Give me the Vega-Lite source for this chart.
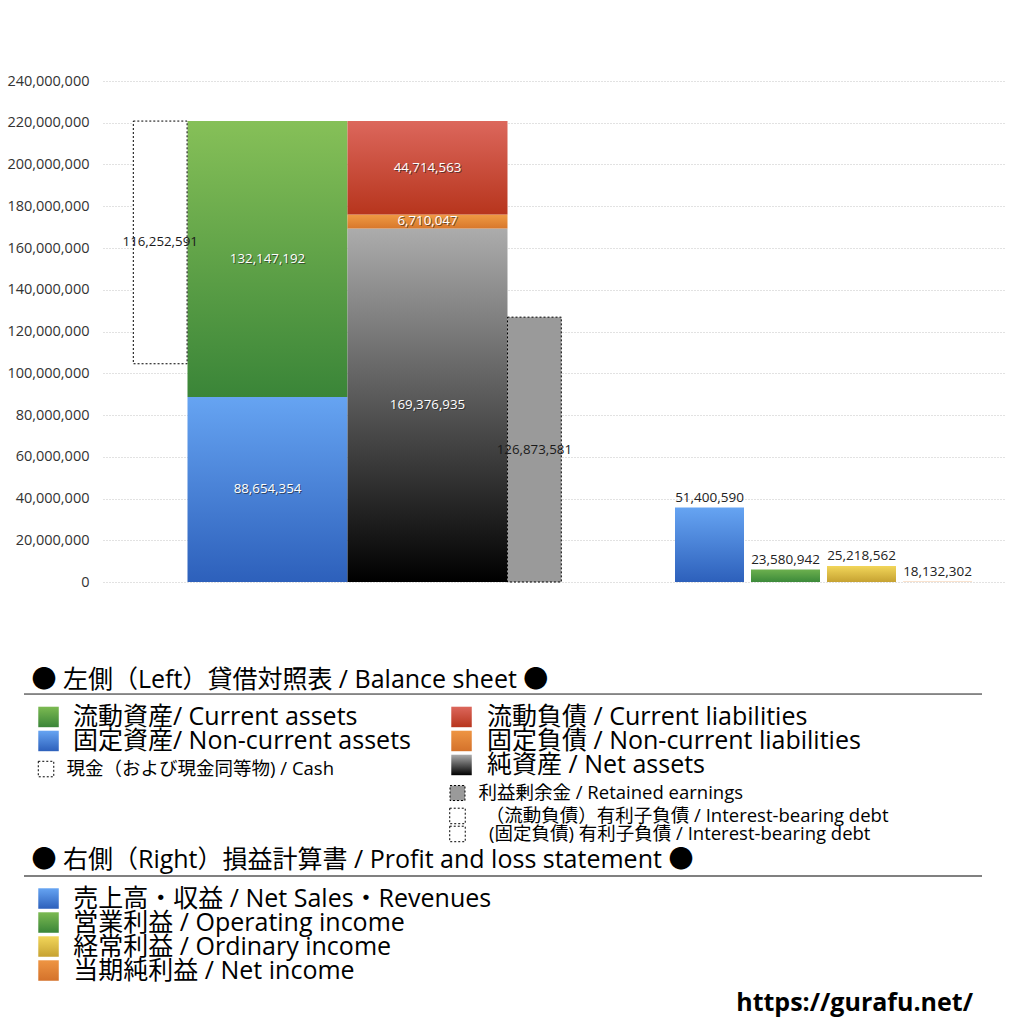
{
  "$schema": "https://vega.github.io/schema/vega-lite/v6.json",
  "width": 902,
  "height": 501,
  "autosize": {"type": "none"},
  "padding": {"left": 103, "top": 81, "right": 19, "bottom": 442},
  "background": "white",
  "config": {
    "view": {"stroke": null},
    "font": "Open Sans, Noto Sans CJK JP",
    "axisY": {"labelFontSize": 14.5, "labelFont": "Open Sans", "labelColor": "#333333", "gridColor": "#c4c4c4", "gridDash": [1, 2], "gridWidth": 1, "domain": false, "ticks": false, "labelPadding": 14, "labelFlush": false}
  },
  "datasets": {
    "bs": [
      {"col": "cash", "seg": "other", "value": 104548955, "order": 1},
      {"col": "cash", "seg": "cash", "value": 116252591, "order": 2},
      {"col": "assets", "seg": "noncurrent_assets", "value": 88654354, "order": 1},
      {"col": "assets", "seg": "current_assets", "value": 132147192, "order": 2},
      {"col": "liab", "seg": "net_assets", "value": 169376935, "order": 1},
      {"col": "liab", "seg": "noncurrent_liab", "value": 6710047, "order": 2},
      {"col": "liab", "seg": "current_liab", "value": 44714563, "order": 3},
      {"col": "re", "seg": "retained", "value": 126873581, "order": 1}
    ],
    "pl": [
      {"item": "sales", "value": 51400590},
      {"item": "operating", "value": 23580942},
      {"item": "ordinary", "value": 25218562},
      {"item": "net", "value": 18132302}
    ],
    "legend": [
      {"key": "h1", "type": "header", "label": "● 左側（Left）貸借対照表 / Balance sheet ●", "tx": 0.78, "row": 0},
      {"key": "rule1", "type": "rule", "x0": 0, "x1": 100, "row": 1.17},
      {"key": "ca", "type": "big", "label": "流動資産/ Current assets", "sx": 2.56, "tx": 5.11, "row": 3.08},
      {"key": "nca", "type": "big", "label": "固定資産/ Non-current assets", "sx": 2.56, "tx": 5.11, "row": 5.08},
      {"key": "cash", "type": "small", "label": "現金（および現金同等物) / Cash", "sx": 2.3, "tx": 4.44, "row": 7.42},
      {"key": "cl", "type": "big", "label": "流動負債 /  Current liabilities", "sx": 45.67, "tx": 48.33, "row": 3.08},
      {"key": "ncl", "type": "big", "label": "固定負債 / Non-current liabilities", "sx": 45.67, "tx": 48.33, "row": 5.08},
      {"key": "na", "type": "big", "label": "純資産 / Net assets", "sx": 45.67, "tx": 48.33, "row": 7.08},
      {"key": "re", "type": "small", "label": "利益剰余金 / Retained earnings", "sx": 45.25, "tx": 47.44, "row": 9.42},
      {"key": "ib1", "type": "small", "label": "（流動負債）有利子負債 / Interest-bearing debt", "sx": 45.25, "tx": 48.2, "row": 11.33},
      {"key": "ib2", "type": "small", "label": "(固定負債) 有利子負債 / Interest-bearing debt", "sx": 45.25, "tx": 48.54, "row": 12.83},
      {"key": "h2", "type": "header", "label": "● 右側（Right）損益計算書 / Profit and loss statement ●", "tx": 0.78, "row": 15},
      {"key": "rule2", "type": "rule", "x0": 0, "x1": 100, "row": 16.33},
      {"key": "sales", "type": "big", "label": "売上高・収益 / Net Sales・Revenues", "sx": 2.56, "tx": 5.15, "row": 18.21},
      {"key": "op", "type": "big", "label": "営業利益 / Operating income", "sx": 2.56, "tx": 5.15, "row": 20.21},
      {"key": "ord", "type": "big", "label": "経常利益 / Ordinary income", "sx": 2.56, "tx": 5.15, "row": 22.21},
      {"key": "net", "type": "big", "label": "当期純利益 / Net income", "sx": 2.56, "tx": 5.15, "row": 24.21},
      {"key": "url", "type": "url", "label": "https://gurafu.net/", "tx": 99.06, "row": 26.92}
    ]
  },
  "resolve": {
    "scale": {"x": "independent", "y": "independent"},
    "axis": {"x": "independent", "y": "independent"}
  },
  "layer": [
    {
      "data": {"name": "pl"},
      "mark": {"type": "rule", "opacity": 0},
      "encoding": {
        "y": {"field": "value", "type": "quantitative", "scale": {"domain": [0, 240000000], "nice": false, "zero": true}, "axis": {"title": null, "values": [0, 20000000, 40000000, 60000000, 80000000, 100000000, 120000000, 140000000, 160000000, 180000000, 200000000, 220000000, 240000000], "format": ",d"}}
      }
    },
    {
      "data": {"name": "bs"},
      "transform": [
        {"stack": "value", "groupby": ["col"], "sort": [{"field": "order", "order": "ascending"}], "as": ["lo", "hi"]},
        {"filter": {"field": "col", "oneOf": ["assets", "liab"]}}
      ],
      "encoding": {
        "x": {"field": "col", "type": "nominal", "axis": null, "scale": {"type": "band", "domain": ["assets", "liab"], "range": [84.5, 404.5], "paddingInner": 0, "paddingOuter": 0}},
        "y": {"field": "lo", "type": "quantitative", "axis": null, "scale": {"domain": [0, 240000000], "nice": false, "zero": true}}
      },
      "layer": [
        {
          "transform": [{"filter": "datum.seg == 'noncurrent_assets'"}],
          "mark": {"type": "bar", "fill": {"gradient": "linear", "x1": 0, "y1": 0, "x2": 0, "y2": 1, "stops": [{"offset": 0, "color": "#66a4f2"}, {"offset": 1, "color": "#2d60bb"}]}},
          "encoding": {"y2": {"field": "hi"}}
        },
        {
          "transform": [{"filter": "datum.seg == 'current_assets'"}],
          "mark": {"type": "bar", "fill": {"gradient": "linear", "x1": 0, "y1": 0, "x2": 0, "y2": 1, "stops": [{"offset": 0, "color": "#86c058"}, {"offset": 1, "color": "#3a8538"}]}},
          "encoding": {"y2": {"field": "hi"}}
        },
        {
          "transform": [{"filter": "datum.seg == 'net_assets'"}],
          "mark": {"type": "bar", "fill": {"gradient": "linear", "x1": 0, "y1": 0, "x2": 0, "y2": 1, "stops": [{"offset": 0, "color": "#acacac"}, {"offset": 1, "color": "#000000"}]}},
          "encoding": {"y2": {"field": "hi"}}
        },
        {
          "transform": [{"filter": "datum.seg == 'noncurrent_liab'"}],
          "mark": {"type": "bar", "fill": {"gradient": "linear", "x1": 0, "y1": 0, "x2": 0, "y2": 1, "stops": [{"offset": 0, "color": "#f09a43"}, {"offset": 1, "color": "#d8782c"}]}},
          "encoding": {"y2": {"field": "hi"}}
        },
        {
          "transform": [{"filter": "datum.seg == 'current_liab'"}],
          "mark": {"type": "bar", "fill": {"gradient": "linear", "x1": 0, "y1": 0, "x2": 0, "y2": 1, "stops": [{"offset": 0, "color": "#dc675c"}, {"offset": 1, "color": "#b7351d"}]}},
          "encoding": {"y2": {"field": "hi"}}
        },
        {
          "transform": [
            {"fold": ["lo", "hi"], "as": ["edge", "pos"]},
            {"aggregate": [{"op": "mean", "field": "pos", "as": "mid"}], "groupby": ["col", "seg", "value"]}
          ],
          "mark": {"type": "text", "fontSize": 13.3, "color": "#222222", "opacity": 0.6, "dx": 1, "dy": 1, "baseline": "middle"},
          "encoding": {"y": {"field": "mid", "type": "quantitative", "axis": null}, "text": {"field": "value", "type": "quantitative", "format": ",d"}}
        },
        {
          "transform": [
            {"fold": ["lo", "hi"], "as": ["edge", "pos"]},
            {"aggregate": [{"op": "mean", "field": "pos", "as": "mid"}], "groupby": ["col", "seg", "value"]}
          ],
          "mark": {"type": "text", "fontSize": 13.3, "color": "#ffffff", "baseline": "middle"},
          "encoding": {"y": {"field": "mid", "type": "quantitative", "axis": null}, "text": {"field": "value", "type": "quantitative", "format": ",d"}}
        }
      ]
    },
    {
      "data": {"name": "bs"},
      "transform": [
        {"stack": "value", "groupby": ["col"], "sort": [{"field": "order", "order": "ascending"}], "as": ["lo", "hi"]},
        {"filter": {"field": "col", "oneOf": ["cash", "re"]}},
        {"filter": "datum.seg != 'other'"}
      ],
      "encoding": {
        "x": {"field": "col", "type": "nominal", "axis": null, "scale": {"type": "band", "domain": ["cash", "re"], "range": [30.3, 458.3], "paddingInner": 0.85627, "paddingOuter": 0}},
        "y": {"field": "lo", "type": "quantitative", "axis": null, "scale": {"domain": [0, 240000000], "nice": false, "zero": true}}
      },
      "layer": [
        {
          "transform": [{"filter": "datum.seg == 'cash'"}],
          "mark": {"type": "bar", "fill": "#ffffff", "stroke": "#000000", "strokeWidth": 1, "strokeDash": [2, 2]},
          "encoding": {"y2": {"field": "hi"}}
        },
        {
          "transform": [{"filter": "datum.seg == 'retained'"}],
          "mark": {"type": "bar", "fill": "#9a9a9a", "stroke": "#000000", "strokeWidth": 1, "strokeDash": [2, 2]},
          "encoding": {"y2": {"field": "hi"}}
        },
        {
          "transform": [
            {"fold": ["lo", "hi"], "as": ["edge", "pos"]},
            {"aggregate": [{"op": "mean", "field": "pos", "as": "mid"}], "groupby": ["col", "seg", "value"]}
          ],
          "mark": {"type": "text", "fontSize": 13.3, "color": "#1a1a1a", "baseline": "middle"},
          "encoding": {"y": {"field": "mid", "type": "quantitative", "axis": null}, "text": {"field": "value", "type": "quantitative", "format": ",d"}}
        }
      ]
    },
    {
      "data": {"name": "pl"},
      "encoding": {
        "x": {"field": "item", "type": "nominal", "axis": null, "scale": {"type": "band", "domain": ["sales", "operating", "ordinary", "net"], "range": [572, 869], "paddingInner": 0.092105, "paddingOuter": 0}},
        "y": {"field": "value", "type": "quantitative", "axis": null, "scale": {"domain": [18000000, 242800000], "nice": false, "zero": false}}
      },
      "layer": [
        {
          "transform": [{"filter": "datum.item == 'sales'"}],
          "mark": {"type": "bar", "clip": true, "fill": {"gradient": "linear", "x1": 0, "y1": 0, "x2": 0, "y2": 1, "stops": [{"offset": 0, "color": "#66a4f2"}, {"offset": 1, "color": "#2d60bb"}]}},
          "encoding": {"y2": {"datum": 18000000}}
        },
        {
          "transform": [{"filter": "datum.item == 'operating'"}],
          "mark": {"type": "bar", "clip": true, "fill": {"gradient": "linear", "x1": 0, "y1": 0, "x2": 0, "y2": 1, "stops": [{"offset": 0, "color": "#6cb04e"}, {"offset": 1, "color": "#3c8a3a"}]}},
          "encoding": {"y2": {"datum": 18000000}}
        },
        {
          "transform": [{"filter": "datum.item == 'ordinary'"}],
          "mark": {"type": "bar", "clip": true, "fill": {"gradient": "linear", "x1": 0, "y1": 0, "x2": 0, "y2": 1, "stops": [{"offset": 0, "color": "#f2d65a"}, {"offset": 1, "color": "#c6a232"}]}},
          "encoding": {"y2": {"datum": 18000000}}
        },
        {
          "transform": [{"filter": "datum.item == 'net'"}],
          "mark": {"type": "bar", "clip": true, "fill": {"gradient": "linear", "x1": 0, "y1": 0, "x2": 0, "y2": 1, "stops": [{"offset": 0, "color": "#ea8f3e"}, {"offset": 1, "color": "#d06c2a"}]}},
          "encoding": {"y2": {"datum": 18000000}}
        },
        {
          "mark": {"type": "text", "fontSize": 13.5, "color": "#222222", "baseline": "bottom", "dy": -3},
          "encoding": {"text": {"field": "value", "type": "quantitative", "format": ",d"}}
        }
      ]
    },
    {
      "data": {"name": "legend"},
      "encoding": {
        "y": {"field": "row", "type": "quantitative", "axis": null, "scale": {"type": "linear", "domain": [0, 30], "range": [599, 959], "nice": false, "zero": false}}
      },
      "layer": [
        {
          "transform": [{"filter": "datum.key == 'rule1'"}],
          "mark": {"type": "rule", "color": "#1a1a1a", "strokeWidth": 1},
          "encoding": {"x": {"field": "x0", "type": "quantitative", "axis": null, "scale": {"type": "linear", "domain": [0, 100], "range": [-79, 879], "nice": false, "zero": false}}, "x2": {"field": "x1"}}
        },
        {
          "transform": [{"filter": "datum.key == 'rule2'"}],
          "mark": {"type": "rule", "color": "#808080", "strokeWidth": 2},
          "encoding": {"x": {"field": "x0", "type": "quantitative", "axis": null, "scale": {"type": "linear", "domain": [0, 100], "range": [-79, 879], "nice": false, "zero": false}}, "x2": {"field": "x1"}}
        },
        {
          "transform": [{"filter": "datum.type == 'header'"}],
          "mark": {"type": "text", "fontSize": 25, "align": "left", "baseline": "middle", "color": "#000000"},
          "encoding": {"x": {"field": "tx", "type": "quantitative", "axis": null, "scale": {"type": "linear", "domain": [0, 100], "range": [-79, 879], "nice": false, "zero": false}}, "text": {"field": "label"}}
        },
        {
          "transform": [{"filter": "datum.type == 'big'"}],
          "mark": {"type": "text", "fontSize": 25, "align": "left", "baseline": "middle", "color": "#000000"},
          "encoding": {"x": {"field": "tx", "type": "quantitative", "axis": null, "scale": {"type": "linear", "domain": [0, 100], "range": [-79, 879], "nice": false, "zero": false}}, "text": {"field": "label"}}
        },
        {
          "transform": [{"filter": "datum.type == 'small'"}],
          "mark": {"type": "text", "fontSize": 18.5, "align": "left", "baseline": "middle", "color": "#000000"},
          "encoding": {"x": {"field": "tx", "type": "quantitative", "axis": null, "scale": {"type": "linear", "domain": [0, 100], "range": [-79, 879], "nice": false, "zero": false}}, "text": {"field": "label"}}
        },
        {
          "transform": [{"filter": "datum.type == 'url'"}],
          "mark": {"type": "text", "fontSize": 25, "fontWeight": "bold", "align": "right", "baseline": "middle", "color": "#000000"},
          "encoding": {"x": {"field": "tx", "type": "quantitative", "axis": null, "scale": {"type": "linear", "domain": [0, 100], "range": [-79, 879], "nice": false, "zero": false}}, "text": {"field": "label"}}
        },
        {
          "transform": [{"filter": {"field": "key", "oneOf": ["ca", "op"]}}],
          "mark": {"type": "point", "shape": "square", "filled": true, "size": 420, "opacity": 1, "fill": {"gradient": "linear", "x1": 0, "y1": 0, "x2": 0, "y2": 1, "stops": [{"offset": 0, "color": "#7cba52"}, {"offset": 1, "color": "#3a8538"}]}},
          "encoding": {"x": {"field": "sx", "type": "quantitative", "axis": null, "scale": {"type": "linear", "domain": [0, 100], "range": [-79, 879], "nice": false, "zero": false}}}
        },
        {
          "transform": [{"filter": {"field": "key", "oneOf": ["nca", "sales"]}}],
          "mark": {"type": "point", "shape": "square", "filled": true, "size": 420, "opacity": 1, "fill": {"gradient": "linear", "x1": 0, "y1": 0, "x2": 0, "y2": 1, "stops": [{"offset": 0, "color": "#66a4f2"}, {"offset": 1, "color": "#2d60bb"}]}},
          "encoding": {"x": {"field": "sx", "type": "quantitative", "axis": null, "scale": {"type": "linear", "domain": [0, 100], "range": [-79, 879], "nice": false, "zero": false}}}
        },
        {
          "transform": [{"filter": "datum.key == 'cl'"}],
          "mark": {"type": "point", "shape": "square", "filled": true, "size": 420, "opacity": 1, "fill": {"gradient": "linear", "x1": 0, "y1": 0, "x2": 0, "y2": 1, "stops": [{"offset": 0, "color": "#dc675c"}, {"offset": 1, "color": "#b7351d"}]}},
          "encoding": {"x": {"field": "sx", "type": "quantitative", "axis": null, "scale": {"type": "linear", "domain": [0, 100], "range": [-79, 879], "nice": false, "zero": false}}}
        },
        {
          "transform": [{"filter": {"field": "key", "oneOf": ["ncl", "net"]}}],
          "mark": {"type": "point", "shape": "square", "filled": true, "size": 420, "opacity": 1, "fill": {"gradient": "linear", "x1": 0, "y1": 0, "x2": 0, "y2": 1, "stops": [{"offset": 0, "color": "#ee9543"}, {"offset": 1, "color": "#d4722b"}]}},
          "encoding": {"x": {"field": "sx", "type": "quantitative", "axis": null, "scale": {"type": "linear", "domain": [0, 100], "range": [-79, 879], "nice": false, "zero": false}}}
        },
        {
          "transform": [{"filter": "datum.key == 'na'"}],
          "mark": {"type": "point", "shape": "square", "filled": true, "size": 420, "opacity": 1, "fill": {"gradient": "linear", "x1": 0, "y1": 0, "x2": 0, "y2": 1, "stops": [{"offset": 0, "color": "#acacac"}, {"offset": 1, "color": "#000000"}]}},
          "encoding": {"x": {"field": "sx", "type": "quantitative", "axis": null, "scale": {"type": "linear", "domain": [0, 100], "range": [-79, 879], "nice": false, "zero": false}}}
        },
        {
          "transform": [{"filter": "datum.key == 'ord'"}],
          "mark": {"type": "point", "shape": "square", "filled": true, "size": 420, "opacity": 1, "fill": {"gradient": "linear", "x1": 0, "y1": 0, "x2": 0, "y2": 1, "stops": [{"offset": 0, "color": "#f2d65a"}, {"offset": 1, "color": "#c6a232"}]}},
          "encoding": {"x": {"field": "sx", "type": "quantitative", "axis": null, "scale": {"type": "linear", "domain": [0, 100], "range": [-79, 879], "nice": false, "zero": false}}}
        },
        {
          "transform": [{"filter": "datum.key == 're'"}],
          "mark": {"type": "point", "shape": "square", "filled": true, "size": 225, "opacity": 1, "fill": "#9a9a9a", "stroke": "#000000", "strokeWidth": 1, "strokeDash": [2, 2]},
          "encoding": {"x": {"field": "sx", "type": "quantitative", "axis": null, "scale": {"type": "linear", "domain": [0, 100], "range": [-79, 879], "nice": false, "zero": false}}}
        },
        {
          "transform": [{"filter": {"field": "key", "oneOf": ["cash", "ib1", "ib2"]}}],
          "mark": {"type": "point", "shape": "square", "filled": true, "size": 240, "opacity": 1, "fill": "#ffffff", "stroke": "#000000", "strokeWidth": 1, "strokeDash": [2, 2]},
          "encoding": {"x": {"field": "sx", "type": "quantitative", "axis": null, "scale": {"type": "linear", "domain": [0, 100], "range": [-79, 879], "nice": false, "zero": false}}}
        }
      ]
    }
  ]
}
